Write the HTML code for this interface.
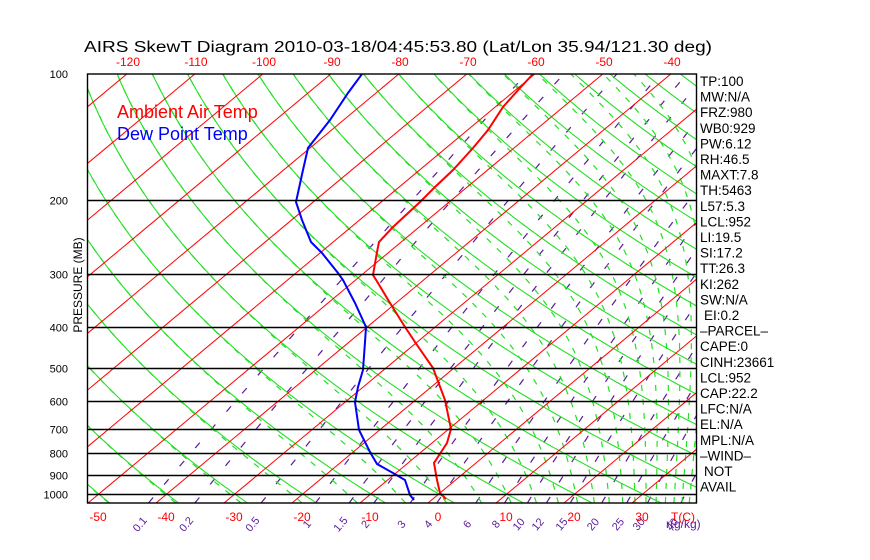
<!DOCTYPE html>
<html><head><meta charset="utf-8">
<style>
html,body{margin:0;padding:0;background:#fff;}
svg{display:block;}
text{font-family:"Liberation Sans",sans-serif;}
</style></head>
<body>
<svg id="s" width="870" height="560" viewBox="0 0 870 560" xmlns="http://www.w3.org/2000/svg">
<defs><clipPath id="c"><rect x="87" y="74" width="610" height="429"/></clipPath></defs>
<rect width="870" height="560" fill="#fff"/>
<g id="grid" clip-path="url(#c)"></g>
<g id="prof" clip-path="url(#c)"></g>
<g id="txt"></g>
</svg>
<script>
(function(){
var NS="http://www.w3.org/2000/svg";
function Y(p){return 74+182.4*Math.log(p/100);}
function X(T,p){return 428+6.8*T+1.2*(503-Y(p));}
function el(parent,tag,attrs,text){var e=document.createElementNS(NS,tag);for(var k in attrs)e.setAttribute(k,attrs[k]);if(text!==undefined)e.textContent=text;parent.appendChild(e);return e;}
var g=document.getElementById('grid'),pr=document.getElementById('prof'),tx=document.getElementById('txt');
var ps=[];for(var p=1050;p>=95;p*=0.985)ps.push(p);ps.push(95);
function poly(par,pts,st){el(par,'polyline',Object.assign({points:pts.map(function(a){return a[0].toFixed(1)+','+a[1].toFixed(1);}).join(' '),fill:'none'},st));}
// mixing ratio lines
var rs=[0.1,0.2,0.5,1,1.5,2,3,4,6,8,10,12,15,20,25,30,40];
rs.forEach(function(r){var pts=[];ps.forEach(function(p){var e=r/1000*p/(0.622+r/1000);var L=Math.log(e/6.112);var Td=243.5*L/(17.67-L);pts.push([X(Td,p),Y(p)]);});
 poly(g,pts,{stroke:'#5a1a9a','stroke-width':1.2,'stroke-dasharray':'7 17'});});
// moist adiabats
function the(T,p){var Tk=T+273.15;var es=6.112*Math.exp(17.67*T/(T+243.5));if(es>p*0.5)es=p*0.5;var r=0.622*es/(p-es);return Tk*Math.pow(1000/p,0.286)*Math.exp(2490*r/Tk);}
for(var k=-6;k<=17;k++){var te=273.15+10*k;var pts=[];ps.forEach(function(p){var lo=-160,hi=60;for(var i=0;i<40;i++){var m=(lo+hi)/2;if(the(m,p)<te)lo=m;else hi=m;}pts.push([X(lo,p),Y(p)]);});
 poly(g,pts,{stroke:'#22e022','stroke-width':1.2,'stroke-dasharray':'6 8'});}
// dry adiabats
for(var th=-60;th<=220;th+=10){var pts=[];ps.forEach(function(p){var T=(th+273.15)*Math.pow(p/1000,0.286)-273.15;pts.push([X(T,p),Y(p)]);});
 poly(g,pts,{stroke:'#22e022','stroke-width':1.1});}
// isotherms
for(var T=-170;T<=40;T+=10){el(g,'line',{x1:X(T,1050),y1:Y(1050),x2:X(T,100),y2:Y(100),stroke:'#ff0000','stroke-width':1});}
// pressure lines
[200,300,400,500,600,700,800,900,1000].forEach(function(p){var y=Math.round(Y(p))+0.5;el(tx,'line',{x1:87,y1:y,x2:697,y2:y,stroke:'#000','stroke-width':1.4});
 el(tx,'text',{x:68,y:y+4,'font-size':11,'text-anchor':'end',fill:'#000'},String(p));});
el(tx,'text',{x:68,y:78,'font-size':11,'text-anchor':'end'},'100');
el(tx,'rect',{x:87.5,y:74,width:609,height:429,fill:'none',stroke:'#000','stroke-width':1.4});
// profiles
var red=[[533,74],[520,88],[503,107],[488,130],[473,148],[453,170],[435,187],[420,202],[393,227],[379,242],[377,252],[373,275],[378,283],[390,303],[405,327],[417,345],[433,368],[445,400],[451,429],[447,443],[434,463],[437,480],[440,493],[446,499]];
var blue=[[362,74],[348,93],[330,120],[308,148],[303,170],[296,202],[302,220],[311,242],[322,253],[338,273],[343,280],[355,303],[366,327],[365,342],[363,370],[358,387],[355,402],[359,430],[370,452],[377,464],[393,473],[405,480],[410,495],[414,500]];
poly(pr,red,{stroke:'#ff0000','stroke-width':2});
poly(pr,blue,{stroke:'#0000ff','stroke-width':2});
// title
el(tx,'text',{x:84,y:52,'font-size':15.5,'font-family':'Liberation Mono, monospace',textLength:628,lengthAdjust:'spacingAndGlyphs'},'AIRS SkewT Diagram 2010-03-18/04:45:53.80 (Lat/Lon 35.94/121.30 deg)');
// top T labels
for(var t=-120;t<=-40;t+=10){el(tx,'text',{x:128+(t+120)*6.8,y:66,'font-size':12,fill:'#ff0000','text-anchor':'middle'},String(t));}
// bottom T labels
for(var t=-50;t<=30;t+=10){el(tx,'text',{x:438+6.8*t,y:521,'font-size':12,fill:'#ff0000','text-anchor':'middle'},String(t));}
el(tx,'text',{x:683,y:521,'font-size':12,fill:'#ff0000','text-anchor':'middle'},'T(C)');
// mixing ratio labels
rs.forEach(function(r){var p=1050;var e=r/1000*p/(0.622+r/1000);var L=Math.log(e/6.112);var Td=243.5*L/(17.67-L);var x=X(Td,p)-9;
 el(tx,'text',{x:x,y:528,'font-size':11,fill:'#5a1a9a','text-anchor':'middle',transform:'rotate(-50 '+x.toFixed(1)+' 524)'},String(r));});
el(tx,'text',{x:666,y:528,'font-size':12,fill:'#5a1a9a'},'r(g/kg)');
// axis title
el(tx,'text',{x:82,y:285,'font-size':12,'text-anchor':'middle',transform:'rotate(-90 82 285)'},'PRESSURE (MB)');
// legend
el(tx,'text',{x:117,y:118,'font-size':18,fill:'#ff0000'},'Ambient Air Temp');
el(tx,'text',{x:117,y:140,'font-size':18,fill:'#0000ff'},'Dew Point Temp');
// right labels
var labs=['TP:100','MW:N/A','FRZ:980','WB0:929','PW:6.12','RH:46.5','MAXT:7.8','TH:5463','L57:5.3','LCL:952','LI:19.5','SI:17.2','TT:26.3','KI:262','SW:N/A',' EI:0.2','\u2013PARCEL\u2013','CAPE:0','CINH:23661','LCL:952','CAP:22.2','LFC:N/A','EL:N/A','MPL:N/A','\u2013WIND\u2013',' NOT','AVAIL'];
labs.forEach(function(s,i){var x=700;if(s.charAt(0)==' '){x=704;s=s.slice(1);}el(tx,'text',{x:x,y:86+i*15.6,'font-size':13.5},s);});
})();
</script>
</body></html>
